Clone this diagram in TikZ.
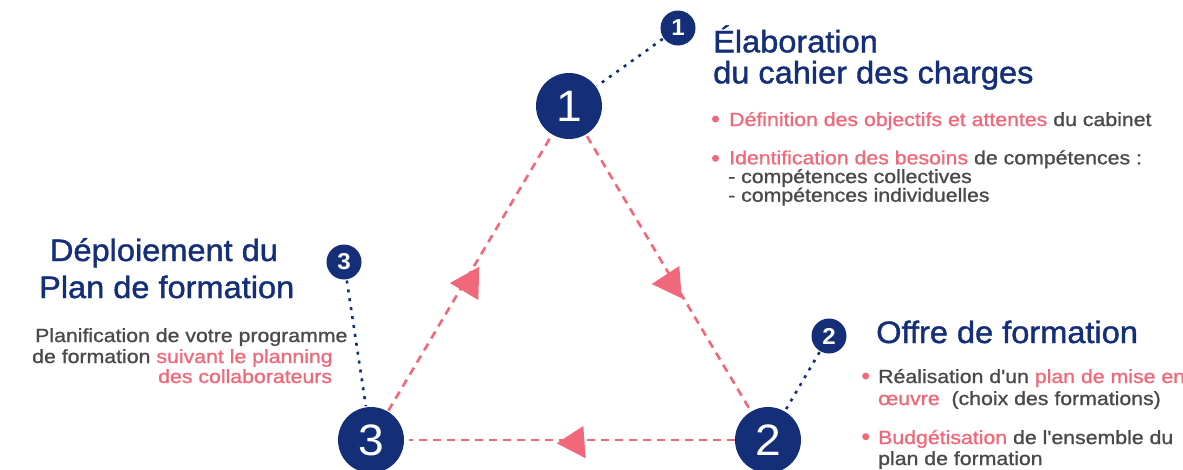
\documentclass[tikz,border=0pt]{standalone}
\usepackage{fontspec}
\newfontfamily\hv{Liberation Sans}[FakeStretch=1.05]
\newfontfamily\hvt{Liberation Sans}[FakeStretch=1.05,FakeBold=1.3]
\newfontfamily\hvb{Liberation Sans}[FakeStretch=1.12,FakeBold=1.1]
\definecolor{navy}{HTML}{142F78}
\definecolor{rose}{HTML}{F0687A}
\definecolor{txt}{HTML}{4A4A4A}
\begin{document}
\begin{tikzpicture}[x=1pt,y=-1pt,
  big/.style={circle,fill=navy,minimum size=66pt,inner sep=0pt,text=white,font=\hv\fontsize{44}{44}\selectfont},
  small/.style={circle,fill=navy,minimum size=35pt,inner sep=0pt,text=white,font=\hv\bfseries\fontsize{23}{23}\selectfont},
  flow/.style={rose,line width=2.6pt,dash pattern=on 8pt off 6pt},
  link/.style={navy,line width=2.6pt,dash pattern=on 3pt off 6pt},
  title/.style={anchor=base west,inner sep=0pt,text=navy,font=\hvt\fontsize{31}{31}\selectfont},
  body/.style={anchor=base west,inner sep=0pt,text=txt,font=\hvb\fontsize{19}{19}\selectfont},
  bullet/.style={circle,fill=rose,minimum size=7pt,inner sep=0pt},
  tipmark/.style={fill=rose}]
\useasboundingbox (0,0) rectangle (1183,469);

% main circles
\node[big] (b1) at (569,106) {1};
\node[big] (b2) at (768,440) {2};
\node[big] (b3) at (371,440) {3};
% small circles
\node[small] (s1) at (678,28) {1};
\node[small] (s2) at (829,336) {2};
\node[small] (s3) at (344,262) {3};

% links
\draw[link,shorten <=1pt,shorten >=1pt] (s1) -- (b1);
\draw[link,shorten <=1pt,shorten >=1pt] (s2) -- (b2);
\draw[link,shorten <=1pt,shorten >=1pt] (s3) -- (b3);

% cycle
\draw[flow,shorten <=5pt] (b1) -- (b3);
\draw[flow,shorten <=2pt] (b1) -- (b2);
\draw[flow,shorten >=5pt] (b2) -- (b3);

% arrow marks
\fill[tipmark] (450,283) -- (479.3,266.7) -- (478.3,300) -- cycle;
\fill[tipmark] (651.7,284) -- (679.3,266) -- (681.7,298.3) -- cycle;
\fill[tipmark] (556.7,443.3) -- (583.3,426) -- (585.7,458.3) -- cycle;

% block 1
\node[title] (t1a) at (713,52.3) {Élaboration};
\node[title] (t1b) at (713,83.3) {du cahier des charges};
\node[bullet] (d1a) at (715.5,119) {};
\node[body] (l1a) at (729,126) {\textcolor{rose}{Définition des objectifs et attentes} du cabinet};
\node[bullet] (d1b) at (715.5,158.3) {};
\node[body] (l1b) at (729,164.3) {\textcolor{rose}{Identification des besoins} de compétences :};
\node[body] (l1c) at (728,183) {- compétences collectives};
\node[body] (l1d) at (728,201.7) {- compétences individuelles};

% block 3
\node[title,anchor=base] (t3a) at (164,261) {Déploiement du};
\node[title,anchor=base] (t3b) at (166.7,298) {Plan de formation};
\node[body] (l3a) at (35,342) {Planification de votre programme};
\node[body] (l3b) at (32,363) {de formation \textcolor{rose}{suivant le planning}};
\node[body,text=rose] (l3c) at (158,383) {des collaborateurs};

% block 2
\node[title] (t2a) at (876,343) {Offre de formation};
\node[bullet] (d2a) at (865.7,376) {};
\node[body] (l2a) at (878,383) {Réalisation d'un \textcolor{rose}{plan de mise en}};
\node[body] (l2b) at (878,405) {\textcolor{rose}{œuvre}\ \ (choix des formations)};
\node[bullet] (d2b) at (865.7,436.7) {};
\node[body] (l2c) at (878,444) {\textcolor{rose}{Budgétisation} de l'ensemble du};
\node[body] (l2d) at (878,465) {plan de formation};
\end{tikzpicture}
\end{document}
